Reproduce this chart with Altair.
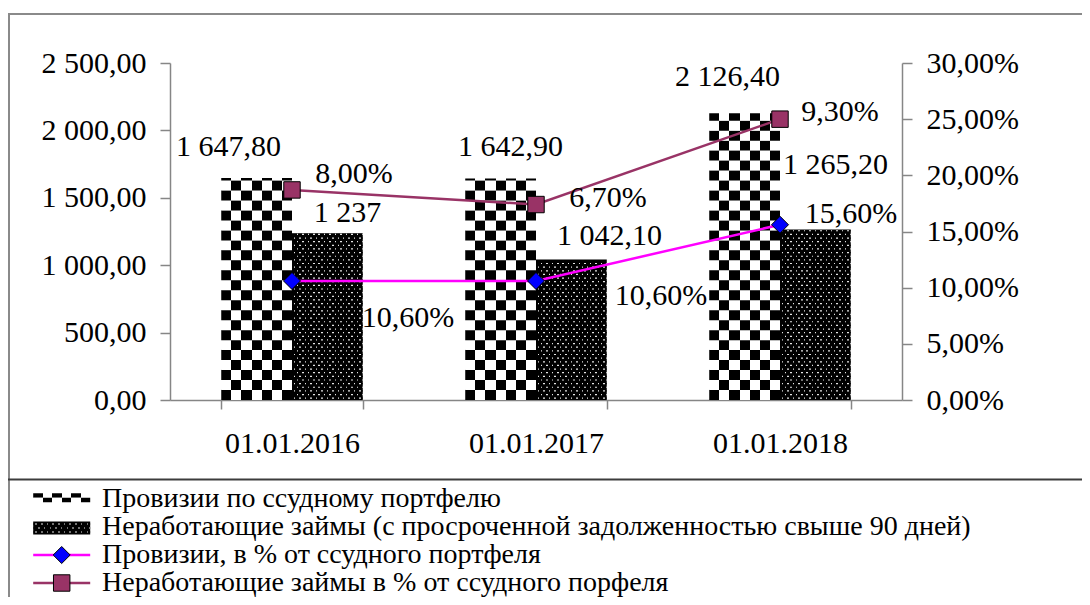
import altair as alt
import pandas as pd

# ---------------- data ----------------
dates = ["01.01.2016", "01.01.2017", "01.01.2018"]
provisions = [1647.80, 1642.90, 2126.40]
npl = [1237.0, 1042.10, 1265.20]
provisions_labels = ["1 647,80", "1 642,90", "2 126,40"]
npl_labels = ["1 237", "1 042,10", "1 265,20"]
prov_pct = [10.6, 10.6, 15.6]
prov_pct_labels = ["10,60%", "10,60%", "15,60%"]
npl_pct = [18.7, 17.4, 25.0]          # position as drawn on the right axis
npl_pct_labels = ["8,00%", "6,70%", "9,30%"]

S1 = "Провизии по ссудному портфелю"
S2 = "Неработающие займы (с просроченной задолженностью свыше 90 дней)"
S3 = "Провизии, в % от ссудного портфеля"
S4 = "Неработающие займы в % от ссудного порфеля"
legend_names = [S1, S2, S3, S4]

bars_df = pd.DataFrame({
    "date": dates + dates,
    "series": [S1] * 3 + [S2] * 3,
    "value": provisions + npl,
    "label": provisions_labels + npl_labels,
})
lines_df = pd.DataFrame({
    "date": dates, "prov_pct": prov_pct, "npl_pct": npl_pct,
    "prov_lbl": prov_pct_labels, "npl_lbl": npl_pct_labels,
})
legend_df = pd.DataFrame({"name": legend_names})
one_df = pd.DataFrame({"k": [0]})

# ---------------- style ----------------
FONT = "Liberation Serif, Times New Roman, serif"
FS = 30
LFS = 28
GRAY = "#868686"
W, H = 732, 337
MAG = "#ff00ff"
PLUM = "#993366"


def stripes(n, first, second):
    stops = []
    for i in range(n):
        c = first if i % 2 == 0 else second
        stops.append({"offset": i / n, "color": c})
        stops.append({"offset": (i + 1) / n, "color": c})
    return {"gradient": "linear", "x1": 0, "y1": 0, "x2": 1, "y2": 0, "stops": stops}


def dots(n, shift, w=0.28, dot="#e4e4e4", bg="#000000"):
    stops = [{"offset": 0, "color": bg}]
    for k in range(n):
        c = (k + 0.5 + shift) / n
        a = max(0.0, c - w / (2 * n))
        b = min(1.0, c + w / (2 * n))
        stops += [{"offset": a, "color": bg}, {"offset": a, "color": dot},
                  {"offset": b, "color": dot}, {"offset": b, "color": bg}]
    stops.append({"offset": 1, "color": bg})
    return {"gradient": "linear", "x1": 0, "y1": 0, "x2": 1, "y2": 0, "stops": stops}


chkA, chkB = stripes(7, "#000000", "#ffffff"), stripes(7, "#ffffff", "#000000")
dotA, dotB = dots(13, 0.0), dots(13, 0.5)
lchkA, lchkB = stripes(6, "#000000", "#ffffff"), stripes(6, "#ffffff", "#000000")
ldotA, ldotB = dots(10, 0.0), dots(10, 0.5)

X = alt.X("date:N", sort=dates, title=None,
          scale=alt.Scale(domain=dates, paddingInner=0.42, paddingOuter=0.21),
          axis=alt.Axis(labelAngle=0, tickBand="extent", tickSize=9, labelPadding=19,
                        domainColor=GRAY, tickColor=GRAY, domainWidth=1.5, tickWidth=1.5,
                        labelFont=FONT, labelFontSize=FS, labelColor="black"))
XO = alt.XOffset("series:N", scale=alt.Scale(domain=[S1, S2]))
YL = alt.Scale(domain=[0, 2500], nice=False)
YR = alt.Scale(domain=[0, 30], nice=False)
left_axis = alt.Axis(values=[0, 500, 1000, 1500, 2000, 2500], title=None, grid=False,
                     labelExpr="replace(replace(format(datum.value, ',.2f'), regexp(',', 'g'), ' '), '.', ',')",
                     domainColor=GRAY, tickColor=GRAY, domainWidth=1.5, tickWidth=1.5,
                     tickSize=10, labelPadding=14, labelFont=FONT, labelFontSize=FS,
                     labelColor="black")
right_axis = alt.Axis(orient="right", values=[0, 5, 10, 15, 20, 25, 30], title=None, grid=False,
                      labelExpr="replace(format(datum.value, '.2f'), '.', ',') + '%'",
                      domainColor=GRAY, tickColor=GRAY, domainWidth=1.5, tickWidth=1.5,
                      tickSize=10, labelPadding=14, labelFont=FONT, labelFontSize=FS,
                      labelColor="black")

# ---------------- frame ----------------
frame = alt.layer(
    alt.Chart(one_df).mark_rule(color="#8a8a8a", strokeWidth=2).encode(
        x=alt.value(-162), x2=alt.value(912), y=alt.value(-49)),
    alt.Chart(one_df).mark_rule(color="#8a8a8a", strokeWidth=2).encode(
        x=alt.value(-161), y=alt.value(-50), y2=alt.value(600)),
    alt.Chart(one_df).mark_rule(color="#3c3c3c", strokeWidth=2).encode(
        x=alt.value(-162), x2=alt.value(912), y=alt.value(416.5)),
)

# ---------------- bars (left axis) ----------------
CH = 74
checker = alt.Chart(bars_df).transform_filter(alt.datum.series == S1).transform_calculate(
    seg=f"sequence(0, ceil(datum.value / {CH}))"
).transform_flatten(["seg"]).transform_calculate(
    y0=f"datum.seg * {CH}", y1=f"min((datum.seg + 1) * {CH} + 2, datum.value)"
).mark_bar(opacity=1, strokeWidth=0).encode(
    x=X, xOffset=XO,
    y=alt.Y("y0:Q", scale=YL, axis=left_axis),
    y2="y1:Q",
    fill=alt.condition("datum.seg % 2 == 0", alt.value(chkA), alt.value(chkB)),
)

dot_base = alt.Chart(bars_df).transform_filter(alt.datum.series == S2).mark_bar(
    color="#000000", opacity=1, strokeWidth=0).encode(
    x=X, xOffset=XO, y=alt.Y("value:Q", scale=YL, stack=None))

DP = 27
dot_rows = alt.Chart(bars_df).transform_filter(alt.datum.series == S2).transform_calculate(
    seg=f"sequence(0, floor((datum.value - 18) / {DP}) + 1)"
).transform_flatten(["seg"]).transform_calculate(
    y0=f"datum.seg * {DP} + 9", y1=f"datum.seg * {DP} + 18"
).mark_bar(opacity=1, strokeWidth=0).encode(
    x=X, xOffset=XO, y=alt.Y("y0:Q", scale=YL), y2="y1:Q",
    fill=alt.condition("datum.seg % 2 == 0", alt.value(dotA), alt.value(dotB)),
)

bar_nudges = {S1: [(-28, -31), (10, -32), (-17, -36)],
              S2: [(20, -20), (38, -24), (20, -64)]}
bar_labels = []
for s in (S1, S2):
    for i, d in enumerate(dates):
        dx, dy = bar_nudges[s][i]
        bar_labels.append(
            alt.Chart(bars_df).transform_filter(
                (alt.datum.series == s) & (alt.datum.date == d)
            ).mark_text(font=FONT, fontSize=FS, color="black", align="center",
                        baseline="middle", dx=dx, dy=dy).encode(
                x=X, xOffset=XO, y=alt.Y("value:Q", scale=YL), text="label:N"))

left_group = alt.layer(checker, dot_base, dot_rows, *bar_labels)

# ---------------- lines (right axis) ----------------
line_prov = alt.Chart(lines_df).mark_line(color=MAG, strokeWidth=2.5).encode(
    x=X, y=alt.Y("prov_pct:Q", scale=YR, axis=right_axis))
line_npl = alt.Chart(lines_df).mark_line(color=PLUM, strokeWidth=2.5).encode(
    x=X, y=alt.Y("npl_pct:Q", scale=YR))
pts_prov = alt.Chart(lines_df).mark_point(shape="diamond", filled=True, fill="#0000ff",
                                          stroke="#000000", strokeWidth=1, size=290,
                                          opacity=1).encode(
    x=X, y=alt.Y("prov_pct:Q", scale=YR))
pts_npl = alt.Chart(lines_df).mark_point(shape="square", filled=True, fill=PLUM,
                                         stroke="#000000", strokeWidth=1, size=270,
                                         opacity=1).encode(
    x=X, y=alt.Y("npl_pct:Q", scale=YR))

pct_nudges = {"prov": [(116, 37), (125, 15), (71, -11)],
              "npl": [(62, -16), (72, -7), (60, -7)]}
pct_labels = []
for key in ("prov", "npl"):
    for i, d in enumerate(dates):
        dx, dy = pct_nudges[key][i]
        pct_labels.append(
            alt.Chart(lines_df).transform_filter(alt.datum.date == d).mark_text(
                font=FONT, fontSize=FS, color="black", align="center",
                baseline="middle", dx=dx, dy=dy).encode(
                x=X, y=alt.Y(f"{key}_pct:Q", scale=YR), text=f"{key}_lbl:N"))

right_group = alt.layer(line_npl, line_prov, pts_npl, pts_prov, *pct_labels)

# ---------------- legend ----------------
LY = alt.Y("name:N", scale=alt.Scale(type="point", domain=legend_names,
                                     range=[436, 520], padding=0), axis=None)
SX = -108.3
SZ = 57 * 57


def leg(name):
    return alt.Chart(legend_df).transform_filter(alt.datum.name == name)


legend_group = alt.layer(
    leg(S1).mark_point(shape="M-1,-0.204H1V-0.046H-1Z", filled=True, fill=lchkA, strokeWidth=0,
                       size=SZ, opacity=1).encode(x=alt.value(SX), y=LY),
    leg(S1).mark_point(shape="M-1,-0.046H1V0.112H-1Z", filled=True, fill=lchkB, strokeWidth=0,
                       size=SZ, opacity=1).encode(x=alt.value(SX), y=LY),
    leg(S2).mark_point(shape="M-1,-0.193H1V0.263H-1Z", filled=True, fill="#000000",
                       strokeWidth=0, size=SZ, opacity=1).encode(x=alt.value(SX), y=LY),
    leg(S2).mark_point(shape="M-1,-0.126H1V-0.084H-1Z", filled=True, fill=ldotA,
                       strokeWidth=0, size=SZ, opacity=1).encode(x=alt.value(SX), y=LY),
    leg(S2).mark_point(shape="M-1,0.014H1V0.056H-1Z", filled=True, fill=ldotB,
                       strokeWidth=0, size=SZ, opacity=1).encode(x=alt.value(SX), y=LY),
    leg(S2).mark_point(shape="M-1,0.154H1V0.196H-1Z", filled=True, fill=ldotA,
                       strokeWidth=0, size=SZ, opacity=1).encode(x=alt.value(SX), y=LY),
    leg(S3).mark_rule(color=MAG, strokeWidth=2.5).encode(
        x=alt.value(SX - 28.5), x2=alt.value(SX + 28.5), y=LY),
    leg(S3).mark_point(shape="diamond", filled=True, fill="#0000ff", stroke="#000000",
                       strokeWidth=1, size=290, opacity=1).encode(x=alt.value(SX), y=LY),
    leg(S4).mark_rule(color=PLUM, strokeWidth=2.5).encode(
        x=alt.value(SX - 28.5), x2=alt.value(SX + 28.5), y=LY),
    leg(S4).mark_point(shape="square", filled=True, fill=PLUM, stroke="#000000",
                       strokeWidth=1, size=270, opacity=1).encode(x=alt.value(SX), y=LY),
    alt.Chart(legend_df).mark_text(font=FONT, fontSize=LFS, color="black", align="left",
                                   baseline="middle").encode(
        x=alt.value(-68), y=LY, text="name:N"),
)

chart = alt.layer(frame, left_group, right_group, legend_group).resolve_scale(
    y="independent"
).properties(
    width=W, height=H,
    autosize=alt.AutoSizeParams(type="none"),
    padding={"left": 162, "top": 55, "right": 180, "bottom": 197},
    background="white",
).configure_view(stroke="transparent")

chart.save("out.html", embed_options={"renderer": "svg", "actions": False})
